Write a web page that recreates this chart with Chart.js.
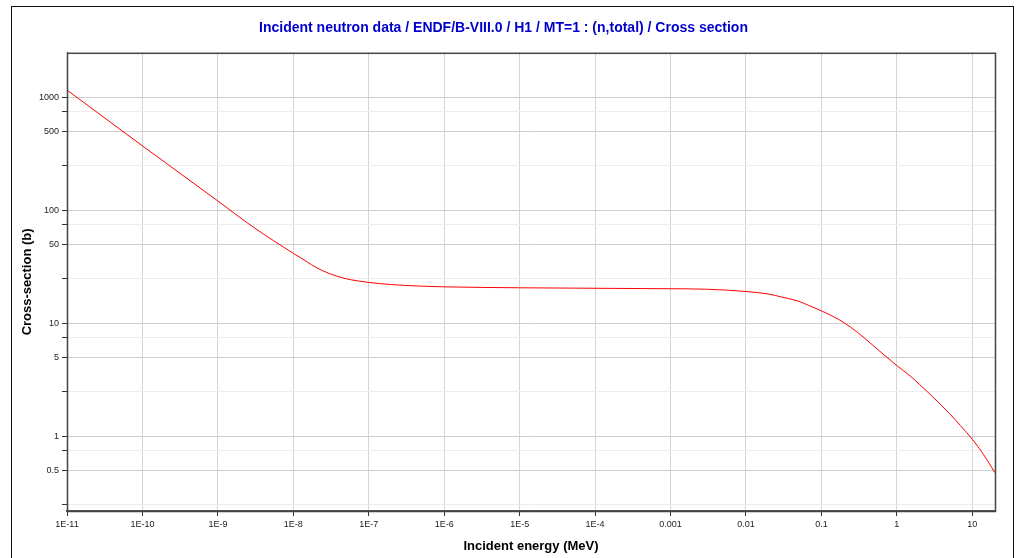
<!DOCTYPE html>
<html>
<head>
<meta charset="utf-8">
<script src="https://cdn.jsdelivr.net/npm/chart.js@4"></script>
<style>
  body { margin: 0; background: #fff; }
  #wrap { position: relative; width: 1016px; height: 558px; }
  #frame { position: absolute; left: 11px; top: 6px; width: 1001px; height: 570px; border: 1.5px solid #111; pointer-events: none; }
</style>
</head>
<body>
<div id="wrap">
  <canvas id="chart" width="1016" height="558"></canvas>
  <div id="frame"></div>
</div>
<script>
// incident energy (MeV)
const energy = [1e-11, 1e-10, 1e-9, 3e-9, 1e-8, 1.5e-8, 2e-8, 3e-8, 5e-8, 7e-8, 1e-7, 2e-7, 5e-7, 1e-6,
                1e-5, 1e-4, 1e-3, 3e-3, 1e-2, 2e-2, 3e-2, 5e-2, 7e-2, 0.1, 0.15, 0.2, 0.3, 0.5, 0.7, 1,
                1.5, 2, 3, 5, 7, 10, 14, 20];
// total cross section (b)
const xs = [1170, 375, 122, 71, 42, 35.5, 31.5, 27.8, 25.0, 24.0, 23.2, 22.2, 21.5, 21.2,
            20.8, 20.6, 20.4, 20.2, 19.3, 18.3, 17.2, 15.8, 14.4, 13.0, 11.4, 10.2, 8.4, 6.3, 5.2, 4.26,
            3.45, 2.9, 2.25, 1.6, 1.25, 0.95, 0.7, 0.48];

const xTicks = [1e-11, 1e-10, 1e-9, 1e-8, 1e-7, 1e-6, 1e-5, 1e-4, 1e-3, 1e-2, 1e-1, 1, 10];
const xTickLabels = ['1E-11', '1E-10', '1E-9', '1E-8', '1E-7', '1E-6', '1E-5', '1E-4', '0.001', '0.01', '0.1', '1', '10'];
const yTicks = [0.25, 0.5, 0.75, 1, 2.5, 5, 7.5, 10, 25, 50, 75, 100, 250, 500, 750, 1000];
const yTickLabels = ['', '0.5', '', '1', '', '5', '', '10', '', '50', '', '100', '', '500', '', '1000'];

const frameBox = {
  id: 'frameBox',
  afterDraw(chart) {
    const a = chart.chartArea, ctx = chart.ctx;
    ctx.save();
    ctx.strokeStyle = '#444';
    ctx.lineWidth = 1.5;
    ctx.strokeRect(a.left + 0.5, a.top + 0.5, a.right - a.left, a.bottom - a.top);
    ctx.restore();
  }
};

new Chart(document.getElementById('chart'), {
  type: 'line',
  data: {
    datasets: [{
      data: energy.map((e, i) => ({ x: e, y: xs[i] })),
      borderColor: 'rgb(255,0,0)',
      borderWidth: 1,
      pointRadius: 0,
      cubicInterpolationMode: 'monotone',
      fill: false
    }]
  },
  options: {
    responsive: false,
    animation: false,
    layout: { padding: { left: 12, right: 21, top: 0, bottom: 0 } },
    plugins: {
      legend: { display: false },
      tooltip: { enabled: false },
      title: {
        display: true,
        text: 'Incident neutron data / ENDF/B-VIII.0 / H1 / MT=1 : (n,total) / Cross section',
        color: '#0000cc',
        font: { family: 'Liberation Sans', size: 14, weight: 'bold' },
        padding: { top: 20, bottom: 16 }
      }
    },
    scales: {
      x: {
        type: 'logarithmic',
        min: 1e-11,
        max: 20,
        afterBuildTicks: s => { s.ticks = xTicks.map(v => ({ value: v })); },
        afterFit: s => { s.height = 47; },
        ticks: {
          autoSkip: false,
          maxRotation: 0,
          color: '#222',
          font: { family: 'Liberation Sans', size: 9 },
          padding: 3,
          callback: (v, i) => xTickLabels[i]
        },
        grid: { color: '#d4d4d4', tickColor: '#333', tickLength: 5 },
        border: { color: '#555', width: 2 },
        title: {
          display: true,
          text: 'Incident energy (MeV)',
          color: '#000',
          font: { family: 'Liberation Sans', size: 13, weight: 'bold' },
          padding: { top: 8 }
        }
      },
      y: {
        type: 'logarithmic',
        min: 0.22,
        max: 2500,
        afterBuildTicks: s => { s.ticks = yTicks.map(v => ({ value: v })); },
        afterFit: s => { s.width = 55; },
        ticks: {
          autoSkip: false,
          color: '#222',
          font: { family: 'Liberation Sans', size: 9 },
          padding: 3,
          callback: (v, i) => yTickLabels[i]
        },
        grid: {
          color: c => (yTickLabels[c.index] ? '#cfcfcf' : '#ededed'),
          tickColor: '#333',
          tickLength: 5
        },
        border: { color: '#333', width: 1 },
        title: {
          display: true,
          text: 'Cross-section (b)',
          color: '#000',
          font: { family: 'Liberation Sans', size: 13, weight: 'bold' },
          padding: { top: 8, bottom: 4 }
        }
      }
    }
  },
  plugins: [frameBox]
});
</script>
</body>
</html>
